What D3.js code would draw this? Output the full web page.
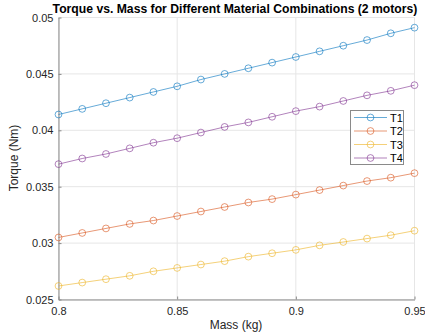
<!DOCTYPE html>
<html><head><meta charset="utf-8">
<script src="https://cdn.jsdelivr.net/npm/d3@7"></script>
<style>body{margin:0;background:#fff}svg{display:block;font-family:Arial,"Liberation Sans",Helvetica,sans-serif}</style>
</head><body><svg id="c" width="425" height="336"></svg>
<script>
const mass = [0.80,0.81,0.82,0.83,0.84,0.85,0.86,0.87,0.88,0.89,0.90,0.91,0.92,0.93,0.94,0.95];
const T1 = [0.0414,0.0419,0.0424,0.0429,0.0434,0.0439,0.0445,0.0450,0.0455,0.0460,0.0465,0.0470,0.0475,0.0480,0.0486,0.0491];
const T2 = [0.0305,0.0309,0.0313,0.0317,0.0320,0.0324,0.0328,0.0332,0.0336,0.0339,0.0343,0.0347,0.0351,0.0355,0.0358,0.0362];
const T3 = [0.0262,0.0265,0.0268,0.0271,0.0275,0.0278,0.0281,0.0284,0.0288,0.0291,0.0294,0.0298,0.0301,0.0304,0.0307,0.0311];
const T4 = [0.0370,0.0375,0.0379,0.0384,0.0389,0.0393,0.0398,0.0403,0.0407,0.0412,0.0417,0.0421,0.0426,0.0431,0.0435,0.0440];
const seriesNames = ["T1","T2","T3","T4"];
const seriesValues = [T1,T2,T3,T4];
const colors = ["#0072BD","#D95319","#EDB120","#7E2F8E"];
const xTicks = [0.8,0.85,0.9,0.95];
const xTickLabels = ["0.8","0.85","0.9","0.95"];
const yTicks = [0.025,0.03,0.035,0.04,0.045,0.05];
const yTickLabels = ["0.025","0.03","0.035","0.04","0.045","0.05"];

const svg = d3.select("#c");
const L=58.5, R=414.5, T=17.5, B=299.5;
const x = d3.scaleLinear().domain([0.8,0.95]).range([L,R]);
const y = d3.scaleLinear().domain([0.025,0.05]).range([B,T]);

// grid
const g = svg.append("g");
g.selectAll(".gx").data(xTicks).join("line").attr("x1",d=>x(d)).attr("x2",d=>x(d)).attr("y1",T).attr("y2",B).attr("stroke","#e6e6e6").attr("stroke-width",1);
g.selectAll(".gy").data(yTicks).join("line").attr("y1",d=>y(d)).attr("y2",d=>y(d)).attr("x1",L).attr("x2",R).attr("stroke","#e6e6e6").attr("stroke-width",1);

// axes
const xa = svg.append("g").attr("transform",`translate(0,${B})`)
  .call(d3.axisBottom(x).tickValues(xTicks).tickFormat((d,i)=>xTickLabels[i]).tickSizeInner(-3).tickSizeOuter(0).tickPadding(8));
const ya = svg.append("g").attr("transform",`translate(${L},0)`)
  .call(d3.axisLeft(y).tickValues(yTicks).tickFormat((d,i)=>yTickLabels[i]).tickSizeInner(-3).tickSizeOuter(0).tickPadding(5));
[xa,ya].forEach(a=>{
  a.select(".domain").attr("stroke","#8a8a8a").attr("stroke-width",1);
  a.selectAll(".tick line").attr("stroke","#8a8a8a");
  a.selectAll(".tick text").attr("fill","#262626").attr("font-size","11px").attr("font-family","Arial, Liberation Sans, sans-serif");
});

// series
const line = d3.line().x((d,i)=>x(mass[i])).y(d=>y(d));
seriesValues.forEach((vals,k)=>{
  svg.append("path").datum(vals).attr("d",line).attr("fill","none").attr("stroke",colors[k]).attr("stroke-width",0.8).attr("opacity",0.75);
  svg.append("g").selectAll("circle").data(vals).join("circle")
    .attr("cx",(d,i)=>x(mass[i])).attr("cy",d=>y(d)).attr("r",3.4)
    .attr("fill","none").attr("stroke",colors[k]).attr("stroke-width",0.8).attr("opacity",0.75);
});

// title & labels
svg.append("text").attr("x",235).attr("y",13).attr("text-anchor","middle").attr("font-weight","bold").attr("font-size","12.2px").attr("fill","#000").text("Torque vs. Mass for Different Material Combinations (2 motors)");
svg.append("text").attr("x",236).attr("y",329).attr("text-anchor","middle").attr("font-size","12px").attr("fill","#262626").text("Mass (kg)");
svg.append("text").attr("transform","translate(18,158) rotate(-90)").attr("text-anchor","middle").attr("font-size","12px").attr("fill","#262626").text("Torque (Nm)");

// legend
const lg = svg.append("g");
lg.append("rect").attr("x",350.5).attr("y",110.5).attr("width",53).attr("height",54).attr("fill","#fff").attr("stroke","#8a8a8a").attr("stroke-width",1);
seriesNames.forEach((n,k)=>{
  const yy = 117.5 + k*13.5;
  lg.append("line").attr("x1",354).attr("x2",387).attr("y1",yy).attr("y2",yy).attr("stroke",colors[k]).attr("stroke-width",0.8).attr("opacity",0.75);
  lg.append("circle").attr("cx",370.5).attr("cy",yy).attr("r",3.4).attr("fill","none").attr("stroke",colors[k]).attr("stroke-width",0.8).attr("opacity",0.75);
  lg.append("text").attr("x",390).attr("y",yy+4).attr("font-size","11px").attr("fill","#000").text(n);
});
</script></body></html>
